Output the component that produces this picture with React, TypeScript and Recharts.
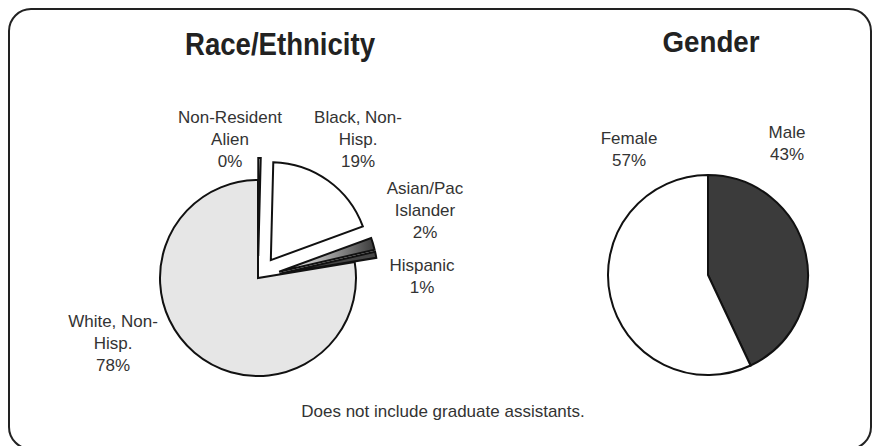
import { PieChart, Pie, Cell, Sector } from "recharts"

// Race / ethnicity, clockwise from 12 o'clock (as in the original Excel pie)
const raceNames = ["Non-Resident\nAlien", "Black, Non-\nHisp.", "Asian/Pac\nIslander", "Hispanic", "White, Non-\nHisp."]
const raceValues = [0.4, 19, 2, 1, 77.6]

// Gender, clockwise from 12 o'clock
const genderNames = ["Male", "Female"]
const genderValues = [43, 57]

const raceData = raceNames.map((name, i) => ({ name, value: raceValues[i] }))
const genderData = genderNames.map((name, i) => ({ name, value: genderValues[i] }))

// styling
const FONT = "'Liberation Sans', Arial, sans-serif"
const LINE = 22
const raceFills: Record<string, string> = {
  "Non-Resident\nAlien": "#ffffff",
  "Black, Non-\nHisp.": "#ffffff",
  "Asian/Pac\nIslander": "url(#asianFade)",
  Hispanic: "#454545",
  "White, Non-\nHisp.": "#e6e6e6",
}
const genderFills: Record<string, string> = { Male: "#3b3b3b", Female: "#ffffff" }
const raceExploded = ["Non-Resident\nAlien", "Black, Non-\nHisp.", "Asian/Pac\nIslander", "Hispanic"]

// where each label block sits, relative to its pie's centre
const raceLabelSpots: Record<string, [number, number]> = {
  "Non-Resident\nAlien": [-28, -139],
  "Black, Non-\nHisp.": [100, -139],
  "Asian/Pac\nIslander": [167, -68],
  Hispanic: [164, -2],
  "White, Non-\nHisp.": [-145, 65],
}
const genderLabelSpots: Record<string, [number, number]> = {
  Male: [79, -132],
  Female: [-79, -126],
}

const RAD = Math.PI / 180

function explodedShape(offset: number, names: string[]) {
  return (props: any) => {
    const name = props.payload?.name ?? props.name
    const shift = names.includes(name) ? offset : 0
    const dx = shift * Math.cos(-props.midAngle * RAD)
    const dy = shift * Math.sin(-props.midAngle * RAD)
    return <Sector {...props} cx={props.cx + dx} cy={props.cy + dy} />
  }
}

function makeLabel(spots: Record<string, [number, number]>) {
  return (p: any) => {
    const name: string = p.payload?.name ?? p.name
    const [ox, oy] = spots[name]
    const lines = [...name.split("\n"), `${Math.round(p.percent * 100)}%`]
    const x = p.cx + ox
    const y0 = p.cy + oy - ((lines.length - 1) * LINE) / 2 + 6
    return (
      <text x={x} y={y0} textAnchor="middle" fontFamily={FONT} fontSize={17} fill="#333">
        {lines.map((l, i) => (
          <tspan key={i} x={x} dy={i === 0 ? 0 : LINE}>
            {l}
          </tspan>
        ))}
      </text>
    )
  }
}

export default function App() {
  return (
    <div style={{ position: "absolute", left: 0, top: 0, width: 875, height: 446, background: "#fff" }}>
      <svg width={0} height={0} style={{ position: "absolute" }}>
        <defs>
          <linearGradient id="asianFade" x1="0" y1="0" x2="1" y2="0">
            <stop offset="0%" stopColor="#ffffff" />
            <stop offset="55%" stopColor="#9a9a9a" />
            <stop offset="100%" stopColor="#3a3a3a" />
          </linearGradient>
        </defs>
      </svg>
      <PieChart width={875} height={446}>
        <Pie
          data={raceData}
          dataKey="value"
          nameKey="name"
          cx={253}
          cy={273}
          outerRadius={98}
          startAngle={90}
          endAngle={-270}
          stroke="#111"
          strokeWidth={2}
          isAnimationActive={false}
          labelLine={false}
          label={makeLabel(raceLabelSpots)}
          shape={explodedShape(22, raceExploded)}
        >
          {raceData.map((d) => (
            <Cell key={d.name} fill={raceFills[d.name]} />
          ))}
        </Pie>
        <Pie
          data={genderData}
          dataKey="value"
          nameKey="name"
          cx={703}
          cy={270}
          outerRadius={100}
          startAngle={90}
          endAngle={-270}
          stroke="#111"
          strokeWidth={2}
          isAnimationActive={false}
          labelLine={false}
          label={makeLabel(genderLabelSpots)}
        >
          {genderData.map((d) => (
            <Cell key={d.name} fill={genderFills[d.name]} />
          ))}
        </Pie>
      </PieChart>
      <svg width={875} height={446} style={{ position: "absolute", left: 0, top: 0, pointerEvents: "none" }}>
        <rect x={9} y={9} width={862} height={440} rx={22} fill="none" stroke="#222" strokeWidth={2} />
        <text x={280} y={55} textAnchor="middle" fontFamily={FONT} fontWeight="bold" fontSize={31} fill="#222" textLength={190} lengthAdjust="spacingAndGlyphs">
          Race/Ethnicity
        </text>
        <text x={711} y={52} textAnchor="middle" fontFamily={FONT} fontWeight="bold" fontSize={30} fill="#222" textLength={97} lengthAdjust="spacingAndGlyphs">
          Gender
        </text>
        <text x={443} y={417} textAnchor="middle" fontFamily={FONT} fontSize={17} fill="#333">
          Does not include graduate assistants.
        </text>
      </svg>
    </div>
  )
}
